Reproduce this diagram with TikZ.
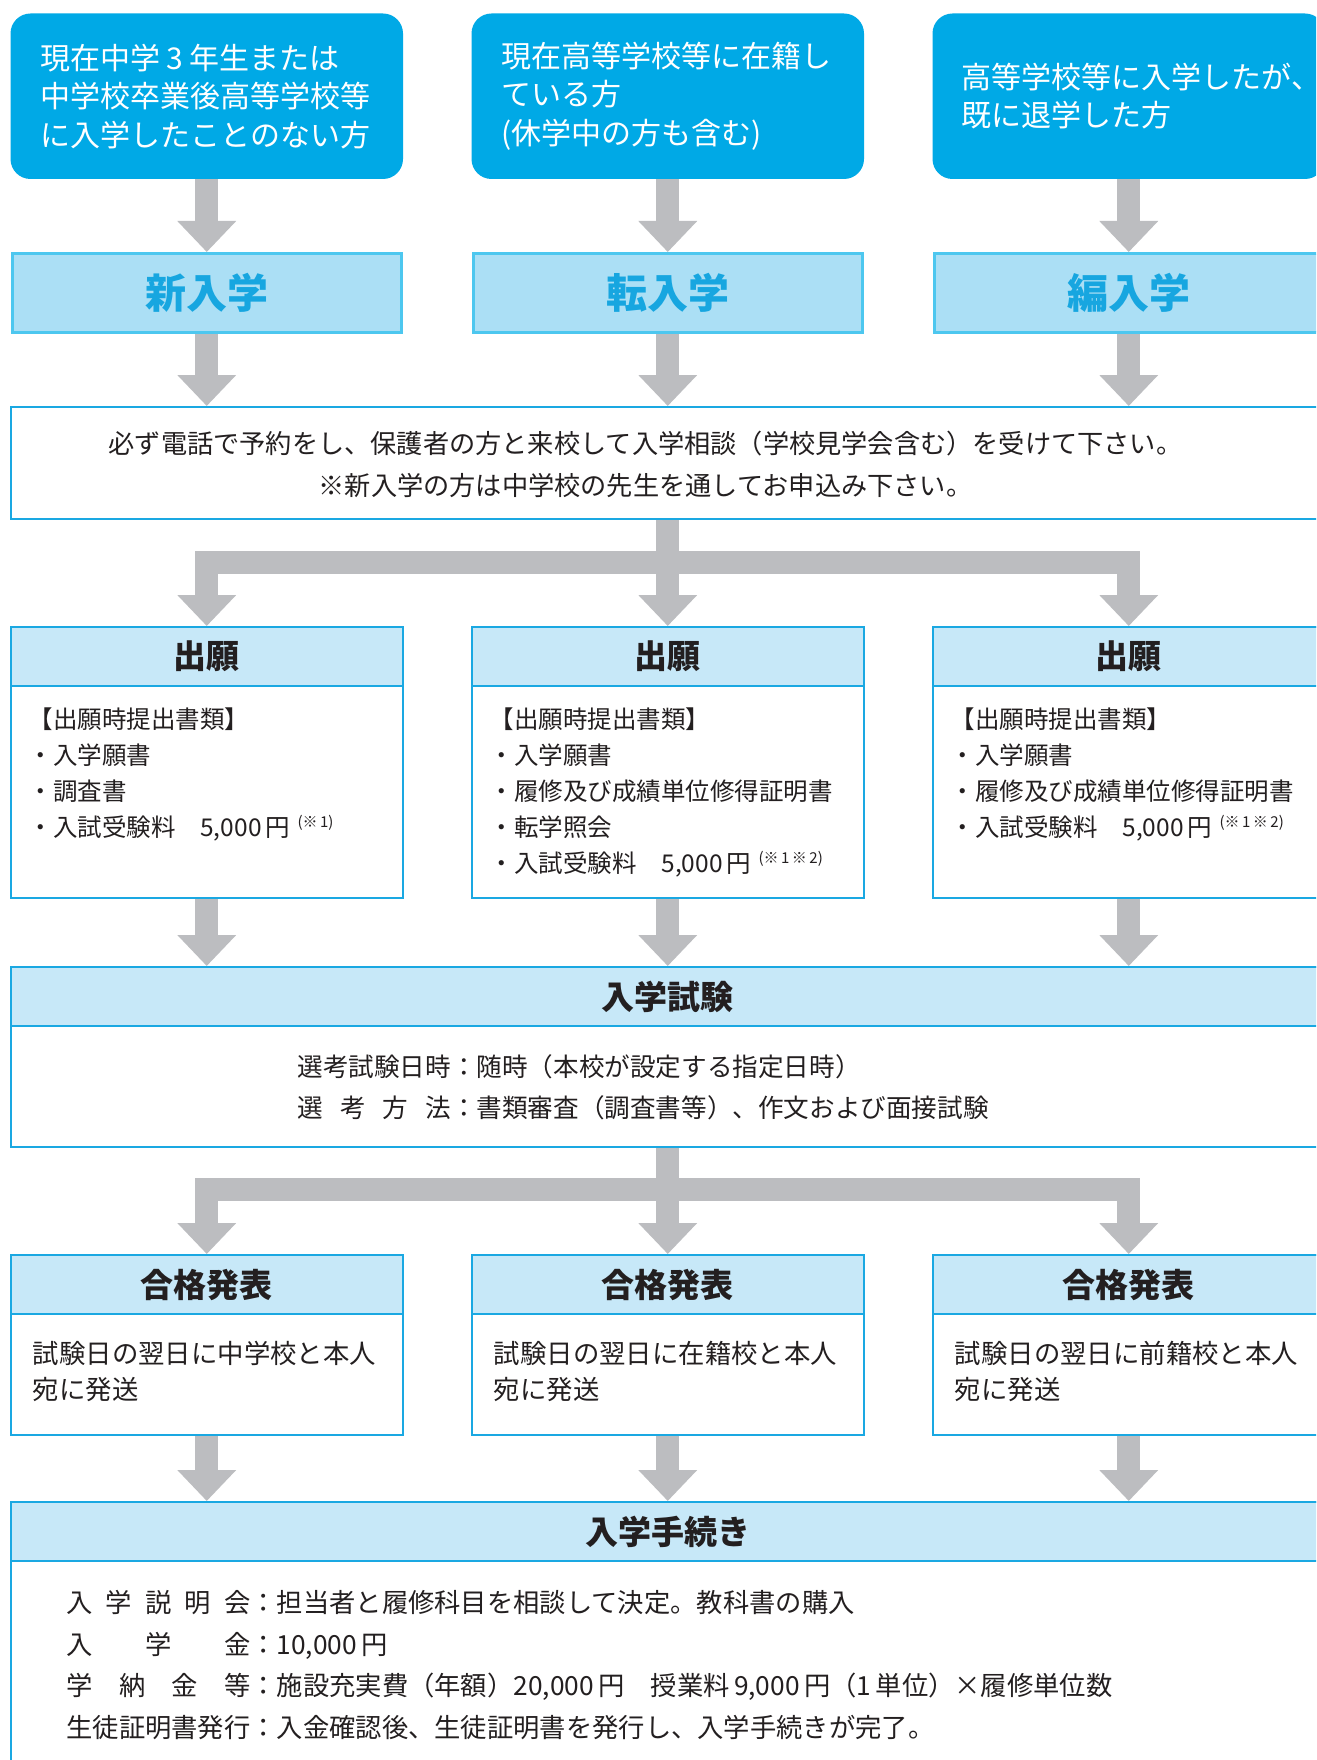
\documentclass[tikz,border=0pt]{standalone}
\usepackage{fontspec}
\setmainfont{Noto Sans CJK JP}
\usetikzlibrary{arrows.meta,calc}
\definecolor{topblue}{HTML}{00A9E6}
\definecolor{kindfill}{HTML}{ABDFF5}
\definecolor{kindline}{HTML}{4DC7EF}
\definecolor{kindtext}{HTML}{17A6E0}
\definecolor{frameblue}{HTML}{1AA8E2}
\definecolor{hdrfill}{HTML}{C7E8F8}
\definecolor{arrowgray}{HTML}{BCBDC0}
\definecolor{inkc}{HTML}{231F20}
\newcommand\supnote[1]{\hspace{0.3em}\raisebox{4.2pt}{\fontsize{7.5}{7.5}\selectfont #1}}
\newcommand\spreadlabel[2]{\makebox[#1][s]{#2}}
\begin{document}
\begin{tikzpicture}[x=0.5pt,y=-0.5pt,
  topbox/.style={fill=topblue, rounded corners=10pt, minimum width=196.25pt, minimum height=82.75pt, inner sep=0pt},
  kindbox/.style={fill=kindfill, draw=kindline, line width=1.75pt, minimum width=194.5pt, minimum height=39.25pt, inner sep=0pt, text=kindtext, font=\fontsize{20.5}{24}\selectfont\bfseries},
  boxframe/.style={draw=frameblue, line width=1pt, inner sep=0pt},
  colbox/.style={boxframe, minimum width=196.25pt},
  widebox/.style={boxframe, minimum width=657.25pt},
  hdr/.style={boxframe, fill=hdrfill, minimum height=29.5pt, text=inkc, font=\fontsize{16.5}{20}\selectfont\bfseries},
  gline/.style={draw=arrowgray, line width=11.5pt},
  garrow/.style={gline, -{Triangle[width=28.5pt,length=15.5pt]}},
  txt/.style={inner sep=0pt, align=left, anchor=west, text=inkc},
  toptxt/.style={txt, text=white, font=\fontsize{15}{19.25}\selectfont},
  apptxt/.style={txt, font=\fontsize{12.25}{18}\selectfont},
  passtxt/.style={txt, font=\fontsize{13.2}{18}\selectfont},
]
\useasboundingbox (0,0) rectangle (1316,1760);
\fill[white] (0,0) rectangle (1316,1760);
\clip (0,0) rectangle (1316,1760);

% top boxes
\node[topbox] (top1) at (206.75,96.25) {};
\node[topbox] (top2) at (667.75,96.25) {};
\node[topbox] (top3) at (1128.75,96.25) {};
\node[toptxt] (top1t) at (40,96.25) {現在中学\hspace{0.2em}3\hspace{0.2em}年生または\\中学校卒業後高等学校等\\に入学したことのない方};
\node[toptxt] (top2t) at (501,96.25) {現在高等学校等に在籍し\\ている方\\(休学中の方も含む)};
\node[toptxt] (top3t) at (961,96.25) {高等学校等に入学したが\makebox[0.45em][l]{、}\\既に退学した方};

% kind boxes
\node[kindbox] (kind1) at (206.75,293) {新入学};
\node[kindbox] (kind2) at (667.75,293) {転入学};
\node[kindbox] (kind3) at (1128.75,293) {編入学};

% reservation box
\node[widebox, minimum height=56pt] (res) at (667.75,463) {};
\node[txt, align=center, anchor=center, font=\fontsize{13.1}{21}\selectfont] (rest) at (645.5,464) {必ず電話で予約をし、保護者の方と来校して入学相談（学校見学会含む）を受けて下さい。\\※新入学の方は中学校の先生を通してお申込み下さい。};

% application boxes
\node[colbox, minimum height=135.5pt] (app1) at (206.75,762.5) {};
\node[colbox, minimum height=135.5pt] (app2) at (667.75,762.5) {};
\node[colbox, minimum height=135.5pt] (app3) at (1128.75,762.5) {};
\node[hdr, minimum width=196.25pt] (app1h) at (206.75,656.5) {出願};
\node[hdr, minimum width=196.25pt] (app2h) at (667.75,656.5) {出願};
\node[hdr, minimum width=196.25pt] (app3h) at (1128.75,656.5) {出願};
\node[apptxt] (app1t) at (28.5,774) {【出願時提出書類】\\・入学願書\\・調査書\\・入試受験料　5,000\,円\supnote{(※\,1)}};
\node[apptxt] (app2t) at (489.5,792) {【出願時提出書類】\\・入学願書\\・履修及び成績単位修得証明書\\・転学照会\\・入試受験料　5,000\,円\supnote{(※\,1\,※\,2)}};
\node[apptxt] (app3t) at (950.5,774) {【出願時提出書類】\\・入学願書\\・履修及び成績単位修得証明書\\・入試受験料　5,000\,円\supnote{(※\,1\,※\,2)}};

% exam box
\node[widebox, minimum height=90pt] (exam) at (667.75,1057) {};
\node[hdr, minimum width=657.25pt] (examh) at (667.75,996.5) {入学試験};
\node[txt, font=\fontsize{12.8}{20.5}\selectfont] (examt) at (297,1087.5) {\spreadlabel{6em}{選考試験日時}：随時（本校が設定する指定日時）\\\spreadlabel{6em}{選\hfill 考\hfill 方\hfill 法}：書類審査（調査書等）、作文および面接試験};

% pass boxes
\node[colbox, minimum height=90pt] (pass1) at (206.75,1345) {};
\node[colbox, minimum height=90pt] (pass2) at (667.75,1345) {};
\node[colbox, minimum height=90pt] (pass3) at (1128.75,1345) {};
\node[hdr, minimum width=196.25pt] (pass1h) at (206.75,1284.5) {合格発表};
\node[hdr, minimum width=196.25pt] (pass2h) at (667.75,1284.5) {合格発表};
\node[hdr, minimum width=196.25pt] (pass3h) at (1128.75,1284.5) {合格発表};
\node[passtxt] (pass1t) at (32.5,1371) {試験日の翌日に中学校と本人\\宛に発送};
\node[passtxt] (pass2t) at (493.5,1371) {試験日の翌日に在籍校と本人\\宛に発送};
\node[passtxt] (pass3t) at (954.5,1371) {試験日の翌日に前籍校と本人\\宛に発送};

% procedure box
\node[widebox, minimum height=149pt] (proc) at (667.75,1651) {};
\node[hdr, minimum width=657.25pt] (proch) at (667.75,1531.5) {入学手続き};
\node[txt, font=\fontsize{13.15}{20.75}\selectfont] (proct) at (66,1665) {\spreadlabel{7em}{入\hfill 学\hfill 説\hfill 明\hfill 会}：担当者と履修科目を相談して決定。教科書の購入\\\spreadlabel{7em}{入\hfill 学\hfill 金}：10,000\,円\\\spreadlabel{7em}{学\hfill 納\hfill 金\hfill 等}：施設充実費（年額）20,000\,円　授業料\,9,000\,円（1\,単位）×履修単位数\\\spreadlabel{7em}{生徒証明書発行}：入金確認後、生徒証明書を発行し、入学手続きが完了。};

% connectors
\foreach \i in {1,2,3} {
  \draw[garrow] (top\i.south) -- (kind\i.north);
  \draw[garrow] (kind\i.south) -- (kind\i.south |- res.north);
}
\coordinate (br1) at (667.75,562.5);
\draw[gline] ($(app1.north |- br1)+(-11.5,0)$) -- ($(app3.north |- br1)+(11.5,0)$);
\draw[garrow] ($(app1.north |- br1)+(0,-11.5)$) -- (app1.north);
\draw[garrow] (res.south) -- (app2.north);
\draw[garrow] ($(app3.north |- br1)+(0,-11.5)$) -- (app3.north);

\foreach \i in {1,2,3} {
  \draw[garrow] (app\i.south) -- (app\i.south |- exam.north);
}
\coordinate (br2) at (667.75,1189.5);
\draw[gline] ($(pass1.north |- br2)+(-11.5,0)$) -- ($(pass3.north |- br2)+(11.5,0)$);
\draw[garrow] ($(pass1.north |- br2)+(0,-11.5)$) -- (pass1.north);
\draw[garrow] (exam.south) -- (pass2.north);
\draw[garrow] ($(pass3.north |- br2)+(0,-11.5)$) -- (pass3.north);

\foreach \i in {1,2,3} {
  \draw[garrow] (pass\i.south) -- (pass\i.south |- proc.north);
}
\end{tikzpicture}
\end{document}
